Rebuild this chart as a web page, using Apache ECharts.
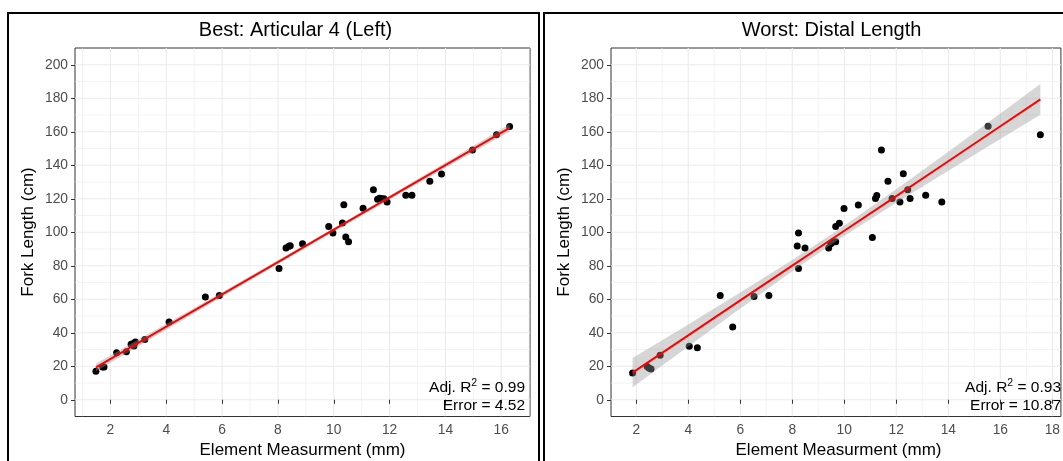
<!DOCTYPE html>
<html>
<head>
<meta charset="utf-8">
<script src="https://cdn.jsdelivr.net/npm/echarts@6/dist/echarts.min.js"></script>
<style>
html,body{margin:0;padding:0;background:#fff;}
#c{width:1063px;height:461px;}
</style>
</head>
<body>
<div id="c"></div>
<script>
// ---------- data ----------
const leftX = [1.48, 1.72, 1.77, 2.22, 2.57, 2.74, 2.80, 2.84, 2.89, 3.23, 4.10, 5.40, 5.90, 8.04, 8.29, 8.39, 8.44, 8.88, 9.82, 9.97, 10.31, 10.36, 10.43, 10.53, 11.05, 11.42, 11.57, 11.64, 11.72, 11.80, 11.91, 12.58, 12.80, 13.44, 13.86, 14.97, 15.83, 16.30];
const leftY = [17.0, 19.6, 19.6, 28.1, 28.7, 33.1, 33.5, 32.1, 34.5, 35.9, 46.4, 61.4, 62.2, 78.3, 90.6, 91.6, 92.0, 93.2, 103.5, 99.5, 105.5, 116.4, 97.1, 94.3, 114.4, 125.3, 119.7, 120.3, 120.0, 120.0, 118.1, 122.1, 122.1, 130.4, 134.8, 149.1, 158.2, 163.1];

const rightX = [1.86, 2.42, 2.49, 2.57, 2.92, 4.04, 4.35, 5.23, 5.71, 6.53, 7.10, 8.19, 8.24, 8.24, 8.49, 9.40, 9.48, 9.57, 9.67, 9.67, 9.81, 9.99, 10.54, 11.08, 11.20, 11.25, 11.43, 11.68, 11.84, 12.14, 12.27, 12.44, 12.53, 13.13, 13.75, 15.53, 17.54];
const rightY = [15.9, 19.8, 19.0, 18.4, 26.6, 31.9, 31.1, 62.2, 43.4, 61.6, 62.2, 91.8, 99.5, 78.3, 90.6, 90.6, 93.2, 94.2, 94.4, 103.5, 105.3, 114.2, 116.2, 96.9, 120.1, 121.9, 149.1, 130.4, 120.1, 118.1, 135.0, 125.3, 120.1, 122.1, 118.1, 163.3, 158.2];

// fitted line and confidence band
const leftFitX  = [1.48, 4, 6, 8, 10, 12, 14, 16.30];
const leftFitY  = [19.3, 43.6, 62.9, 82.2, 101.5, 120.8, 140.1, 162.3];
const leftBandLo = [16.9, 41.8, 61.5, 81.0, 100.4, 119.6, 138.5, 160.0];
const leftBandHi = [21.7, 45.4, 64.3, 83.4, 102.6, 122.0, 141.7, 164.6];

const rightFitX  = [1.86, 4, 6, 8, 9.8, 12, 14, 16, 17.54];
const rightFitY  = [16.2, 38.4, 59.3, 80.1, 98.8, 121.6, 142.4, 163.3, 179.3];
const rightBandLo = [7.5, 31.8, 54.5, 76.7, 95.8, 117.6, 136.7, 155.7, 170.1];
const rightBandHi = [24.9, 45.0, 64.1, 83.5, 101.8, 125.6, 148.1, 170.9, 188.5];

// axes
const xTicksLeft  = [2, 4, 6, 8, 10, 12, 14, 16];
const xMinorLeft  = [1, 3, 5, 7, 9, 11, 13, 15, 17];
const xTicksRight = [2, 4, 6, 8, 10, 12, 14, 16, 18];
const xMinorRight = [3, 5, 7, 9, 11, 13, 15, 17];
const yTicks = [0, 20, 40, 60, 80, 100, 120, 140, 160, 180, 200];
const yMinor = [10, 30, 50, 70, 90, 110, 130, 150, 170, 190];

const titles = ['Best: Articular 4 (Left)', 'Worst: Distal Length'];
const statsR2 = ['0.99', '0.93'];
const statsErr = ['4.52', '10.87'];

// ---------- rendering ----------
const FONT = '"Liberation Sans", Arial, Helvetica, sans-serif';
const Y_MIN = -10, Y_MAX = 210;
const X_RANGE = [[0.73, 17.03], [1.03, 18.33]];

const chart = echarts.init(document.getElementById('c'), null, {renderer: 'canvas'});

function gridData(xMaj, xMin) {
  const d = [];
  xMin.forEach(v => d.push([v, 0, 0]));
  yMinor.forEach(v => d.push([v, 1, 0]));
  xMaj.forEach(v => d.push([v, 0, 1]));
  yTicks.forEach(v => d.push([v, 1, 1]));
  return d;
}

function gridSeries(idx, xMaj, xMin) {
  const xr = X_RANGE[idx];
  return {
    type: 'custom', xAxisIndex: idx, yAxisIndex: idx, z: 0, silent: true,
    clip: true,
    data: gridData(xMaj, xMin),
    encode: {x: -1, y: -1},
    renderItem: function (params, api) {
      const v = api.value(0), isY = api.value(1), major = api.value(2);
      let p1, p2;
      if (isY) { p1 = api.coord([xr[0], v]); p2 = api.coord([xr[1], v]); }
      else { p1 = api.coord([v, Y_MIN]); p2 = api.coord([v, Y_MAX]); }
      return {type: 'line', shape: {x1: p1[0], y1: p1[1], x2: p2[0], y2: p2[1]},
              style: {stroke: '#EBEBEB', lineWidth: major ? 1.1 : 0.6}};
    }
  };
}

function bandSeries(idx, bx, lo, hi) {
  return {
    type: 'custom', xAxisIndex: idx, yAxisIndex: idx, z: 3, silent: true,
    data: bx.map((x, i) => [x, lo[i], hi[i]]),
    encode: {x: 0, y: [1, 2]},
    renderItem: function (params, api) {
      if (params.dataIndex !== 0) return null;
      const pts = [];
      for (let i = 0; i < bx.length; i++) pts.push(api.coord([bx[i], hi[i]]));
      for (let i = bx.length - 1; i >= 0; i--) pts.push(api.coord([bx[i], lo[i]]));
      return {type: 'polygon', shape: {points: pts}, style: {fill: 'rgba(153,153,153,0.4)'}};
    }
  };
}

function xAxisCfg(idx, ticks) {
  return {
    type: 'value', gridIndex: idx, min: X_RANGE[idx][0], max: X_RANGE[idx][1],
    axisLine: {show: false},
    splitLine: {show: false},
    axisTick: {show: true, length: 4, customValues: ticks, lineStyle: {color: '#333333', width: 1}},
    axisLabel: {show: true, customValues: ticks, color: '#4D4D4D', fontSize: 13.8, fontFamily: FONT, margin: 7}
  };
}
function yAxisCfg(idx) {
  return {
    type: 'value', gridIndex: idx, min: Y_MIN, max: Y_MAX,
    axisLine: {show: false},
    splitLine: {show: false},
    axisTick: {show: true, length: 4, customValues: yTicks, lineStyle: {color: '#333333', width: 1}},
    axisLabel: {show: true, customValues: yTicks, color: '#4D4D4D', fontSize: 13.8, fontFamily: FONT, margin: 7}
  };
}

const gridLefts = [75, 611];
const panelCenters = [302.5, 838.5];

const graphics = [];
// outer frames
graphics.push({type: 'rect', shape: {x: 8, y: 13, width: 531, height: 520}, style: {fill: null, stroke: '#000', lineWidth: 2}, z: 100});
graphics.push({type: 'rect', shape: {x: 544, y: 13, width: 600, height: 520}, style: {fill: null, stroke: '#000', lineWidth: 2}, z: 100});
[0, 1].forEach(i => {
  graphics.push({type: 'text', x: panelCenters[i] - 7, y: 30, z: 100,
    style: {text: titles[i], font: '20px ' + FONT, fill: '#000', align: 'center', verticalAlign: 'middle'}});
  graphics.push({type: 'text', x: panelCenters[i], y: 450, z: 100,
    style: {text: 'Element Measurment (mm)', font: '17px ' + FONT, fill: '#000', align: 'center', verticalAlign: 'middle'}});
  graphics.push({type: 'text', x: gridLefts[i] - 47, y: 232, rotation: Math.PI / 2, z: 100,
    style: {text: 'Fork Length (cm)', font: '17px ' + FONT, fill: '#000', align: 'center', verticalAlign: 'middle'}});
  const rx = gridLefts[i] + 455 - 5;
  graphics.push({type: 'text', x: rx, y: 387, z: 100,
    style: {
      text: '{n|Adj. R}{s|2}{n| = ' + statsR2[i] + '}',
      align: 'right', verticalAlign: 'middle',
      rich: {
        n: {fontSize: 15.5, fontFamily: FONT, fill: '#000', lineHeight: 18, verticalAlign: 'bottom'},
        s: {fontSize: 10.5, fontFamily: FONT, fill: '#000', lineHeight: 11, verticalAlign: 'top'}
      }
    }});
  graphics.push({type: 'text', x: rx, y: 406, z: 100,
    style: {text: 'Error = ' + statsErr[i], font: '15.5px ' + FONT, fill: '#000', align: 'right', verticalAlign: 'middle'}});
});

const option = {
  backgroundColor: '#ffffff',
  animation: false,
  grid: [
    {left: 75, top: 48, width: 455, height: 368.5, show: true, borderColor: '#333333', borderWidth: 1, backgroundColor: '#fff', z: 0},
    {left: 611, top: 48, width: 455, height: 368.5, show: true, borderColor: '#333333', borderWidth: 1, backgroundColor: '#fff', z: 0}
  ],
  xAxis: [xAxisCfg(0, xTicksLeft), xAxisCfg(1, xTicksRight)],
  yAxis: [yAxisCfg(0), yAxisCfg(1)],
  series: [
    gridSeries(0, xTicksLeft, xMinorLeft),
    gridSeries(1, xTicksRight, xMinorRight),
    {type: 'scatter', xAxisIndex: 0, yAxisIndex: 0, z: 2, symbolSize: 7, itemStyle: {color: '#000', opacity: 1},
     data: leftX.map((x, i) => [x, leftY[i]])},
    {type: 'scatter', xAxisIndex: 1, yAxisIndex: 1, z: 2, symbolSize: 7, itemStyle: {color: '#000', opacity: 1},
     data: rightX.map((x, i) => [x, rightY[i]])},
    bandSeries(0, leftFitX, leftBandLo, leftBandHi),
    bandSeries(1, rightFitX, rightBandLo, rightBandHi),
    {type: 'line', xAxisIndex: 0, yAxisIndex: 0, z: 4, symbol: 'none', silent: true,
     lineStyle: {color: '#FF0000', width: 2}, data: leftFitX.map((x, i) => [x, leftFitY[i]])},
    {type: 'line', xAxisIndex: 1, yAxisIndex: 1, z: 4, symbol: 'none', silent: true,
     lineStyle: {color: '#FF0000', width: 2}, data: rightFitX.map((x, i) => [x, rightFitY[i]])}
  ],
  graphic: graphics
};
chart.setOption(option);
</script>
</body>
</html>
